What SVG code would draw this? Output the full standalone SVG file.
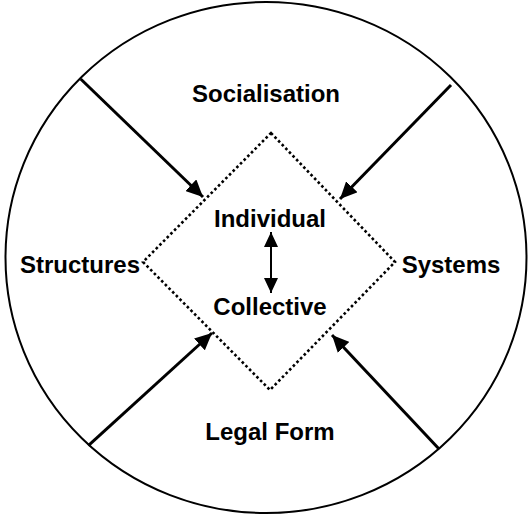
<svg xmlns="http://www.w3.org/2000/svg" width="529" height="517" viewBox="0 0 529 517">
<style>
text{font-family:"Liberation Sans",Arial,sans-serif;font-weight:bold;font-size:24px;fill:#000;text-anchor:middle}
.c{stroke:#000;stroke-width:3;fill:none}
.d{stroke:#000;stroke-width:2;fill:none}
</style>
<defs>
<marker id="ah" markerUnits="userSpaceOnUse" markerWidth="18" markerHeight="16" refX="17" refY="8" orient="auto"><path d="M0,0 L17,8 L0,16 Z" fill="#000"/></marker>
<marker id="as" markerUnits="userSpaceOnUse" markerWidth="16" markerHeight="14" refX="15" refY="7" orient="auto-start-reverse"><path d="M0,0 L15,7 L0,14 Z" fill="#000"/></marker>
</defs>
<g id="frame"><ellipse cx="266" cy="257.5" rx="260.5" ry="255.5" fill="none" stroke="#000" stroke-width="2"/></g>
<g id="core"><polygon points="271,133 395,262 270,390 143,262" fill="none" stroke="#000" stroke-width="2.6" stroke-dasharray="2.6,2.6"/></g>
<g id="socialisation"><text x="266" y="102">Socialisation</text></g>
<g id="legal-form"><text x="270" y="440">Legal Form</text></g>
<g id="structures"><text x="80" y="273">Structures</text></g>
<g id="systems"><text x="451" y="273">Systems</text></g>
<g id="individual"><text x="270" y="227">Individual</text></g>
<g id="collective"><text x="270" y="315">Collective</text></g>
<g id="connectors">
<line class="c" x1="80.7" y1="79" x2="203" y2="197" marker-end="url(#ah)"/>
<line class="c" x1="451" y1="85" x2="340" y2="199" marker-end="url(#ah)"/>
<line class="c" x1="88.3" y1="445.7" x2="212" y2="333" marker-end="url(#ah)"/>
<line class="c" x1="439.3" y1="449.3" x2="332" y2="335" marker-end="url(#ah)"/>
<line class="d" x1="271" y1="232" x2="271" y2="293" marker-start="url(#as)" marker-end="url(#as)"/>
</g>
</svg>
